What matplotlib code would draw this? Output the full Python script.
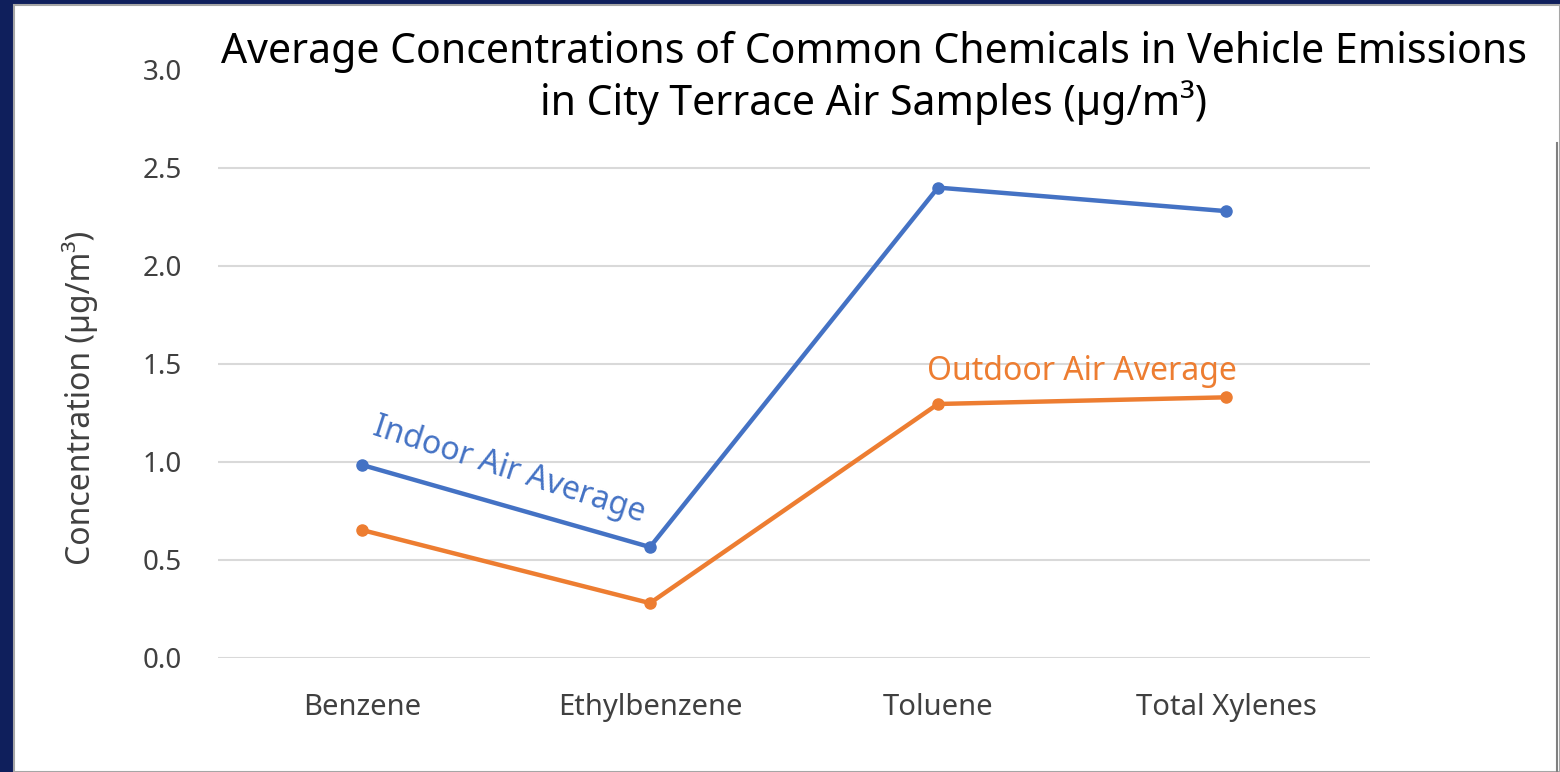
import matplotlib.pyplot as plt
from matplotlib.lines import Line2D
from matplotlib.patches import Rectangle

plt.rcParams['font.family'] = ['Noto Sans', 'DejaVu Sans']

chemicals = ['Benzene', 'Ethylbenzene', 'Toluene', 'Total Xylenes']
indoor_avg = [0.985, 0.566, 2.40, 2.28]
outdoor_avg = [0.653, 0.28, 1.296, 1.33]
y_ticks = [0.0, 0.5, 1.0, 1.5, 2.0, 2.5, 3.0]

blue = '#4472C4'
orange = '#ED7D31'
navy = '#0F1F5C'

fig = plt.figure(figsize=(15.6, 7.72), dpi=100, facecolor=navy)

# white slide panel with thin grey border
W, H = 1560, 772
fig.patches.append(Rectangle((14 / W, 0), 1 - 14 / W, (H - 5) / H, transform=fig.transFigure,
                             facecolor='white', edgecolor='#a6a6a6', linewidth=1.5, zorder=-5))
fig.lines.append(Line2D([1557 / W, 1557 / W], [0, (H - 143) / H], transform=fig.transFigure,
                        color='#808080', linewidth=1.5, zorder=-4))

ax = fig.add_axes([218 / W, 114 / H, 1152 / W, 588 / H])
ax.set_facecolor('none')

x = range(len(chemicals))
ax.plot(x, indoor_avg, color=blue, linewidth=3.2, marker='o', markersize=8, zorder=3)
ax.plot(x, outdoor_avg, color=orange, linewidth=3.2, marker='o', markersize=8, zorder=3)

ax.set_xlim(-0.5, 3.5)
ax.set_ylim(0, 3.0)
ax.set_yticks(y_ticks)
ax.set_yticklabels(['{:.1f}'.format(v) for v in y_ticks])
ax.set_xticks(list(x))
ax.set_xticklabels(chemicals)
ax.grid(axis='y', color='#d9d9d9', linewidth=1.5, zorder=0)
ax.set_axisbelow(True)
for s in ax.spines.values():
    s.set_visible(False)
ax.tick_params(length=0, colors='#404040')
ax.tick_params(axis='y', pad=26, labelsize=20)
ax.tick_params(axis='x', pad=25, labelsize=21)

ax.set_ylabel('Concentration (µg/m³)', fontsize=23, color='#404040', labelpad=32)
ax.yaxis.label.set_y(0.442)

ax.text(0.51, 0.96, 'Indoor Air Average', color=blue, fontsize=23,
        rotation=-18, ha='center', va='center', rotation_mode='anchor')
ax.text(2.5, 1.46, 'Outdoor Air Average', color=orange, fontsize=23,
        ha='center', va='center')

fig.text(874 / W, 1 - 78 / H,
         'Average Concentrations of Common Chemicals in Vehicle Emissions\n'
         'in City Terrace Air Samples (µg/m³)',
         ha='center', va='center', fontsize=29.5, color='black', linespacing=1.2,
         bbox=dict(facecolor='white', edgecolor='none', pad=2))

fig.savefig('out.png', dpi=100, facecolor=navy)
